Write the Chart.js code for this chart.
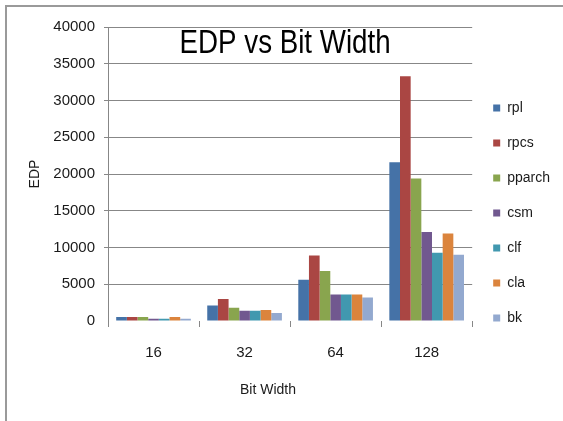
<!DOCTYPE html>
<html>
<head>
<meta charset="utf-8">
<title>EDP vs Bit Width</title>
<script src="https://cdn.jsdelivr.net/npm/chart.js@4/dist/chart.umd.min.js"></script>
<style>
  html, body { margin: 0; padding: 0; background: #ffffff; }
  #wrap { width: 563px; height: 421px; position: relative; }
</style>
</head>
<body>
<div id="wrap"><canvas id="chart" width="563" height="421"></canvas></div>
<script>
// Bit widths on the x axis
const bitWidths = ['16', '32', '64', '128'];

// EDP per adder architecture, one value per bit width
const rpl    = [550, 2100, 5600, 21600];
const rpcs   = [550, 3000, 8900, 33300];
const pparch = [550, 1800, 6800, 19400];
const csm    = [300, 1400, 3600, 12100];
const clf    = [300, 1400, 3600, 9300];
const cla    = [550, 1500, 3600, 11900];
const bk     = [300, 1100, 3200, 9000];

const seriesNames  = ['rpl', 'rpcs', 'pparch', 'csm', 'clf', 'cla', 'bk'];
const seriesValues = [rpl, rpcs, pparch, csm, clf, cla, bk];
const seriesColors = ['#4572A7', '#AA4643', '#89A54E', '#71588F', '#4198AF', '#DB843D', '#93A9CF'];

const chartTitle = 'EDP vs Bit Width';
const xTitle = 'Bit Width';
const yTitle = 'EDP';

const FONT = '"Liberation Sans", Arial, sans-serif';
const GRID = '#878787';
const TEXT = '#1a1a1a';

// Frame around the chart, and the titles drawn over the canvas
const decorations = {
  id: 'decorations',
  beforeDraw(chart) {
    const ctx = chart.ctx;
    ctx.save();
    ctx.fillStyle = '#9a9a9a';
    ctx.fillRect(5, 5, chart.width - 5, 2);
    ctx.fillRect(5, 5, 2, chart.height - 5);
    ctx.restore();
  },
  afterDraw(chart) {
    const ctx = chart.ctx;
    const area = chart.chartArea;
    ctx.save();
    ctx.fillStyle = '#000000';
    ctx.textAlign = 'center';
    ctx.textBaseline = 'alphabetic';
    // Main title, slightly condensed
    ctx.font = '33px ' + FONT;
    ctx.translate((area.left + area.right) / 2 - 5, 53);
    ctx.scale(0.84, 1);
    ctx.fillText(chartTitle, 0, 0);
    ctx.restore();

    ctx.save();
    ctx.fillStyle = TEXT;
    ctx.textAlign = 'center';
    ctx.textBaseline = 'alphabetic';
    ctx.font = '14px ' + FONT;
    ctx.fillText(xTitle, 268, 394);
    ctx.restore();
  }
};

const datasets = seriesNames.map((name, i) => ({
  label: name,
  data: seriesValues[i],
  backgroundColor: seriesColors[i],
  borderWidth: 0,
  barPercentage: 1.0,
  categoryPercentage: 0.82
}));

new Chart(document.getElementById('chart'), {
  type: 'bar',
  data: { labels: bitWidths, datasets },
  plugins: [decorations],
  options: {
    responsive: false,
    animation: false,
    layout: { padding: { top: 27, bottom: 22, left: 0, right: 3 } },
    plugins: {
      title: { display: false },
      tooltip: { enabled: false },
      legend: {
        position: 'right',
        align: 'center',
        labels: {
          boxWidth: 7,
          boxHeight: 7,
          padding: 21,
          color: TEXT,
          font: { family: FONT, size: 14 }
        }
      }
    },
    scales: {
      x: {
        afterFit(scale) { scale.height = 78; },
        grid: {
          display: true,
          drawOnChartArea: false,
          drawTicks: true,
          tickLength: 6,
          color: GRID,
          offset: true
        },
        border: { display: false },
        ticks: {
          color: TEXT,
          padding: 17,
          font: { family: FONT, size: 15 }
        }
      },
      y: {
        min: 0,
        max: 40000,
        afterFit(scale) { scale.width = 108; },
        ticks: {
          stepSize: 5000,
          color: TEXT,
          padding: 9,
          font: { family: FONT, size: 15 },
          callback: (v) => String(v)
        },
        grid: {
          color: (c) => (c.tick && c.tick.value === 0) ? 'rgba(0,0,0,0)' : GRID,
          tickLength: 4,
          lineWidth: 1
        },
        border: { display: true, color: GRID },
        title: {
          display: true,
          text: yTitle,
          color: TEXT,
          font: { family: FONT, size: 14 },
          padding: { top: 27, bottom: 0 }
        }
      }
    }
  }
});
</script>
</body>
</html>
